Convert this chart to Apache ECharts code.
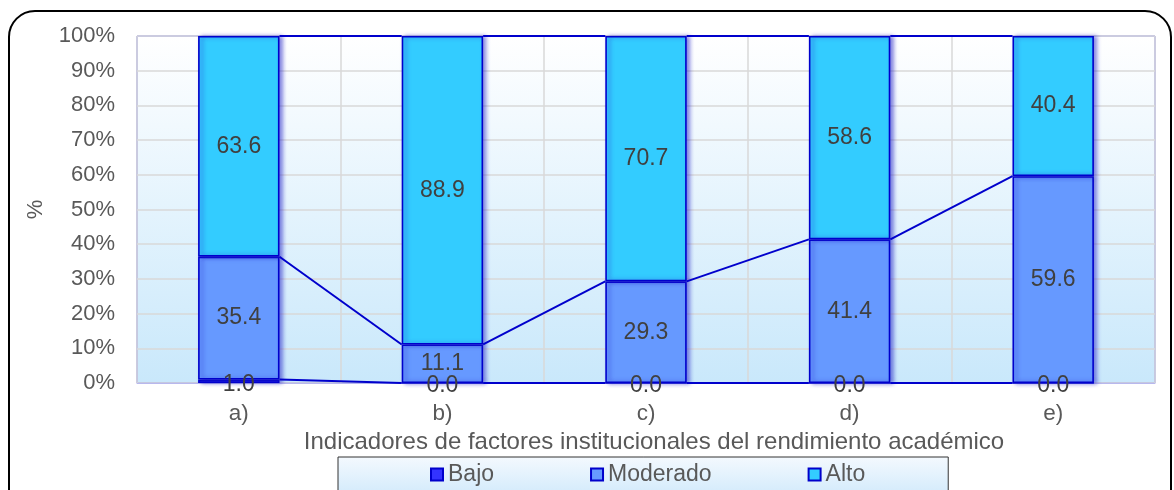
<!DOCTYPE html>
<html>
<head>
<meta charset="utf-8">
<script src="https://cdn.jsdelivr.net/npm/echarts@6/dist/echarts.min.js"></script>
<style>
html,body{margin:0;padding:0;background:#fff;}
#chart{width:1174px;height:490px;}
</style>
</head>
<body>
<div id="chart"></div>
<script>
const categories = ['a)', 'b)', 'c)', 'd)', 'e)'];
const bajo = [1.0, 0.0, 0.0, 0.0, 0.0];
const moderado = [35.4, 11.1, 29.3, 41.4, 59.6];
const alto = [63.6, 88.9, 70.7, 58.6, 40.4];
const yTicks = [0, 10, 20, 30, 40, 50, 60, 70, 80, 90, 100];

const cumBajo = bajo.slice();
const cumMod = bajo.map((v, i) => v + moderado[i]);
const cumAlto = cumMod.map((v, i) => v + alto[i]);

const FONT = 'Liberation Sans';
const TXT = '#595959';
const BAR_FRAC = 0.4;

function seriesLine(cum) {
  return {
    type: 'custom',
    silent: true,
    z: 3,
    encode: { x: 0, y: [1, 2] },
    data: cum.slice(0, -1).map((v, i) => [i, v, cum[i + 1]]),
    renderItem: function (params, api) {
      const i = api.value(0);
      const half = api.size([1, 0])[0] * BAR_FRAC / 2;
      const p1 = api.coord([i, api.value(1)]);
      const p2 = api.coord([i + 1, api.value(2)]);
      return {
        type: 'line',
        shape: { x1: p1[0] + half, y1: p1[1], x2: p2[0] - half, y2: p2[1] },
        style: { stroke: '#0000cc', lineWidth: 2 }
      };
    }
  };
}

function barSeries(name, data, color, labelOffset) {
  return {
    name: name,
    type: 'bar',
    stack: 'total',
    barWidth: (BAR_FRAC * 100) + '%',
    data: data,
    itemStyle: {
      color: color,
      borderColor: '#0000cc',
      borderWidth: 1.6,
      shadowColor: 'rgba(40,40,200,0.55)',
      shadowBlur: 4,
      shadowOffsetX: 3,
      shadowOffsetY: 0
    },
    label: {
      show: true,
      position: 'inside',
      offset: labelOffset || [0, 0],
      formatter: p => p.value.toFixed(1),
      color: '#404040',
      fontFamily: FONT,
      fontSize: 23
    },
    z: 2
  };
}

const chart = echarts.init(document.getElementById('chart'));
chart.setOption({
  animation: false,
  backgroundColor: '#ffffff',
  graphic: [{
    type: 'rect',
    silent: true,
    z: -10,
    shape: { x: 9, y: 11, width: 1162, height: 540, r: 26 },
    style: { fill: 'none', stroke: '#000000', lineWidth: 2 }
  }],
  grid: {
    left: 137, right: 19, top: 36, bottom: 107,
    show: true,
    borderColor: '#4a4aee',
    borderWidth: 1,
    backgroundColor: {
      type: 'linear', x: 0, y: 0, x2: 0, y2: 1,
      colorStops: [{ offset: 0, color: '#ffffff' }, { offset: 1, color: '#c9e8fb' }]
    }
  },
  legend: {
    data: ['Bajo', 'Moderado', 'Alto'],
    bottom: -8,
    left: 338,
    itemGap: 96,
    itemWidth: 12,
    itemHeight: 12,
    icon: 'rect',
    padding: [6, 83, 12, 92],
    borderColor: '#333333',
    borderWidth: 1,
    backgroundColor: {
      type: 'linear', x: 0, y: 0, x2: 0, y2: 1,
      colorStops: [{ offset: 0, color: '#f4f9fe' }, { offset: 1, color: '#cfe9fb' }]
    },
    textStyle: { color: TXT, fontFamily: FONT, fontSize: 23 }
  },
  xAxis: {
    type: 'category',
    data: categories,
    boundaryGap: true,
    name: 'Indicadores de factores institucionales del rendimiento académico',
    nameLocation: 'middle',
    nameGap: 47,
    nameTextStyle: { color: TXT, fontFamily: FONT, fontSize: 24, padding: [0, 0, 0, 16] },
    axisLine: { show: true, lineStyle: { color: '#b8b8ee', width: 1 } },
    axisTick: { show: false },
    axisLabel: { color: TXT, fontFamily: FONT, fontSize: 22.5, margin: 19 },
    splitLine: { show: true, lineStyle: { color: '#d9d9d9', width: 1.5 } }
  },
  yAxis: {
    type: 'value',
    min: yTicks[0],
    max: yTicks[yTicks.length - 1],
    interval: yTicks[1] - yTicks[0],
    name: '%',
    nameLocation: 'middle',
    nameGap: 90,
    nameRotate: 90,
    nameTextStyle: { color: TXT, fontFamily: FONT, fontSize: 22 },
    axisLine: { show: false },
    axisTick: { show: false },
    axisLabel: { color: TXT, fontFamily: FONT, fontSize: 22, margin: 22, formatter: v => v + '%' },
    splitLine: { show: true, lineStyle: { color: '#d9d9d9', width: 1.5 } }
  },
  series: [
    barSeries('Bajo', bajo, '#3333ff', [0, 3]),
    barSeries('Moderado', moderado, '#6699ff'),
    barSeries('Alto', alto, '#33ccff'),
    seriesLine(cumBajo),
    seriesLine(cumMod),
    seriesLine(cumAlto)
  ]
});
</script>
</body>
</html>
